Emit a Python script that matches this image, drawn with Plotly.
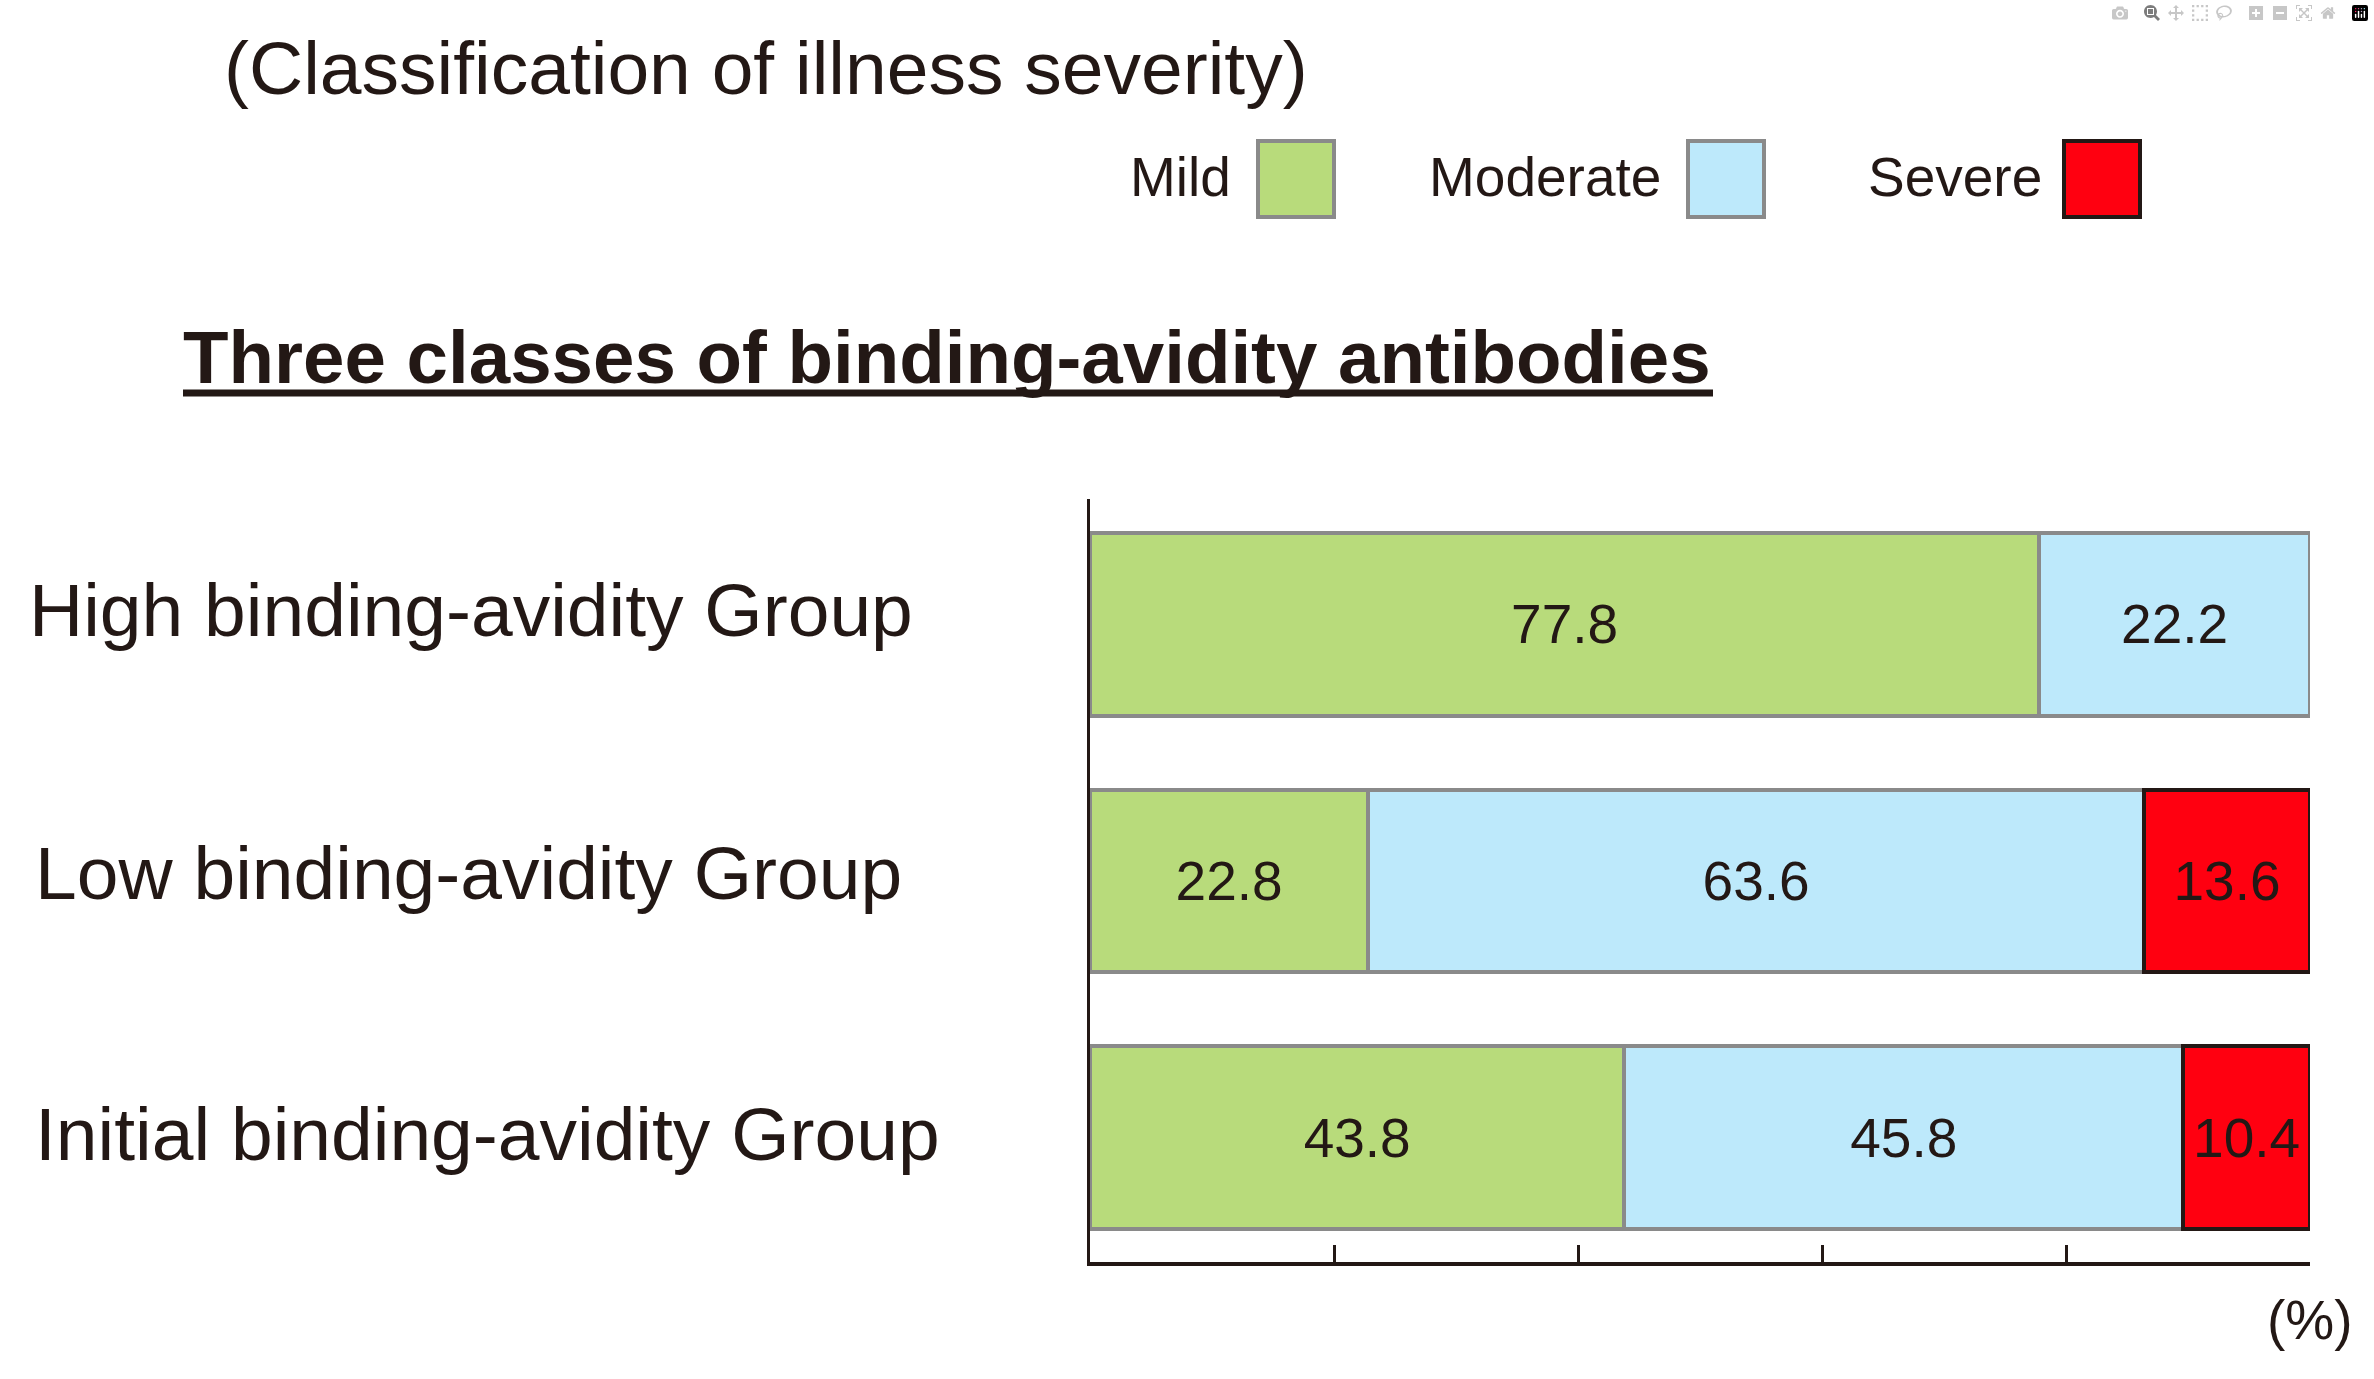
import plotly.graph_objects as go

# ---------------- data ----------------
groups = ["High binding-avidity Group", "Low binding-avidity Group", "Initial binding-avidity Group"]
severity_names = ["Mild", "Moderate", "Severe"]
mild = [77.8, 22.8, 43.8]
moderate = [22.2, 63.6, 45.8]
severe = [0.0, 13.6, 10.4]
x_ticks = [0, 20, 40, 60, 80, 100]

title_text = "(Classification of illness severity)"
heading_text = "Three classes of binding-avidity antibodies"
unit_text = "(%)"

# ---------------- style ----------------
W, H = 2374, 1379
FONT = "Liberation Sans, Arial, sans-serif"
INK = "#231815"
colors = {"Mild": "#B8DB7B", "Moderate": "#BDE9FB", "Severe": "#FF0010"}
edge = {"Mild": "#8A8A8A", "Moderate": "#8A8A8A", "Severe": INK}


def px(x):
    return x / W


def py(y):
    return 1 - y / H


fig = go.Figure()
for name, vals in zip(severity_names, [mild, moderate, severe]):
    fig.add_trace(go.Bar(
        name=name,
        y=groups,
        x=vals,
        orientation="h",
        marker=dict(color=colors[name],
                    line=dict(color=edge[name], width=[4 if v else 0 for v in vals])),
        text=[f"{v:.1f}" if v else "" for v in vals],
        textposition="inside",
        insidetextanchor="middle",
        constraintext="none",
        textfont=dict(family=FONT, size=55, color=INK),
        showlegend=False,
        hoverinfo="skip",
    ))

fig.update_layout(
    width=W, height=H,
    margin=dict(l=0, r=0, t=0, b=0),
    paper_bgcolor="white", plot_bgcolor="white",
    barmode="stack",
    bargap=0.287,
    font=dict(family=FONT, color=INK),
    xaxis=dict(
        domain=[px(1090), px(2310)],
        range=[0, 100],
        tickvals=x_ticks,
        showticklabels=False,
        ticks="inside", ticklen=17, tickwidth=3, tickcolor=INK,
        showline=True, linecolor=INK, linewidth=4,
        showgrid=False, zeroline=False,
    ),
    yaxis=dict(
        domain=[py(1262), py(499)],
        type="category",
        categoryarray=groups,
        range=[2.485, -0.489],
        showticklabels=False,
        ticks="",
        showline=True, linecolor=INK, linewidth=3,
        showgrid=False, zeroline=False,
    ),
)

annotations = []
# title
annotations.append(dict(text=title_text, xref="paper", yref="paper",
                        x=px(222), y=py(68), xanchor="left", yanchor="middle",
                        showarrow=False, font=dict(family=FONT, size=75, color=INK)))
# heading
annotations.append(dict(text="<b>" + heading_text + "</b>", xref="paper", yref="paper",
                        x=px(181), y=py(358), xanchor="left", yanchor="middle",
                        showarrow=False, font=dict(family=FONT, size=74.5, color=INK)))
# legend
legend_text_right = [1230, 1660, 2041]
legend_box_left = [1256, 1686, 2062]
shapes = []
for name, tx, bx in zip(severity_names, legend_text_right, legend_box_left):
    annotations.append(dict(text=name, xref="paper", yref="paper",
                            x=px(tx + 3), y=py(177), xanchor="right", yanchor="middle",
                            showarrow=False, font=dict(family=FONT, size=55, color=INK)))
    shapes.append(dict(type="rect", xref="paper", yref="paper",
                       x0=px(bx + 2), x1=px(bx + 78), y0=py(217), y1=py(141),
                       fillcolor=colors[name], line=dict(color=edge[name], width=4)))
# group labels
label_x = [27, 33, 33]
label_shift = [14, 8, 4]
for g, lx, s in zip(groups, label_x, label_shift):
    annotations.append(dict(text=g, xref="paper", yref="y",
                            x=px(lx), y=g, xanchor="left", yanchor="middle", yshift=s,
                            showarrow=False, font=dict(family=FONT, size=75, color=INK)))
# unit
annotations.append(dict(text=unit_text, xref="paper", yref="paper",
                        x=px(2355), y=py(1320), xanchor="right", yanchor="middle",
                        showarrow=False, font=dict(family=FONT, size=55, color=INK)))
# underline of heading
shapes.append(dict(type="line", xref="paper", yref="paper",
                   x0=px(183), x1=px(1713), y0=py(393), y1=py(393),
                   line=dict(color=INK, width=7)))

fig.update_layout(annotations=annotations, shapes=shapes)

fig.write_html("out.html", post_script="document.body.style.margin='0';")
